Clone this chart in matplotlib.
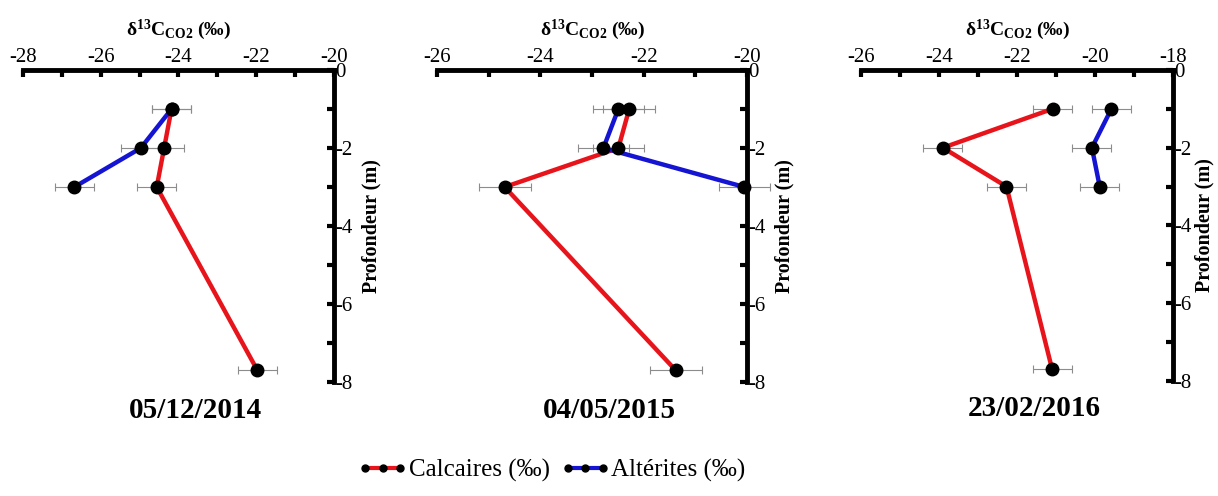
import numpy as np
import matplotlib.pyplot as plt
from matplotlib.lines import Line2D
from matplotlib.ticker import MultipleLocator

plt.rcParams['font.family'] = ['Liberation Serif', 'DejaVu Serif']
plt.rcParams['axes.unicode_minus'] = False
plt.rcParams['mathtext.fontset'] = 'custom'
plt.rcParams['mathtext.rm'] = 'Liberation Serif'
plt.rcParams['mathtext.bf'] = 'Liberation Serif:bold'
plt.rcParams['mathtext.it'] = 'Liberation Serif:italic'

# depths (m)
depth_calc = [-1, -2, -3, -7.7]
depth_alt = [-1, -2, -3]

# d13C CO2 (permil)
dates = ['05/12/2014', '04/05/2015', '23/02/2016']
calc = [[-24.18, -24.37, -24.56, -21.97],
        [-22.28, -22.49, -24.69, -21.38],
        [-21.09, -23.90, -22.27, -21.10]]
alt = [[-24.18, -24.97, -26.68],
       [-22.49, -22.78, -20.05],
       [-19.58, -20.08, -19.88]]
calc_err = [[0.5, 0.5, 0.5, 0.5],
            [0.5, 0.5, 0.5, 0.5],
            [0.5, 0.5, 0.5, 0.5]]
alt_err = [[0.5, 0.5, 0.5],
           [0.5, 0.5, 0.5],
           [0.5, 0.5, 0.5]]
xlims = [(-28, -20), (-26, -20), (-26, -18)]

RED = '#e8141b'
BLUE = '#1414d2'

fig = plt.figure(figsize=(12.18, 4.96), dpi=100)

boxes = [[0.0189, 0.2298, 0.2553, 0.629],
         [0.3588, 0.2298, 0.2545, 0.629],
         [0.7069, 0.2319, 0.2562, 0.627]]
ylabel_x = [1.088, 1.088, 1.068]

for i in range(3):
    ax = fig.add_axes(boxes[i])

    # error bars
    ax.errorbar(calc[i], depth_calc, xerr=calc_err[i], fmt='none',
                ecolor='#8c8c8c', elinewidth=0.8, capsize=3, capthick=0.8,
                zorder=1, clip_on=False)
    ax.errorbar(alt[i], depth_alt, xerr=alt_err[i], fmt='none',
                ecolor='#8c8c8c', elinewidth=0.8, capsize=3, capthick=0.8,
                zorder=1, clip_on=False)

    ax.plot(calc[i], depth_calc, color=RED, lw=3.2, zorder=2, clip_on=False)
    ax.plot(alt[i], depth_alt, color=BLUE, lw=3.2, zorder=3, clip_on=False)
    ax.plot(calc[i], depth_calc, 'o', color='k', ms=9, zorder=4, clip_on=False)
    ax.plot(alt[i], depth_alt, 'o', color='k', ms=9, zorder=4, clip_on=False)

    ax.set_xlim(*xlims[i])
    ax.set_ylim(-8, 0)

    for s in ['left', 'bottom']:
        ax.spines[s].set_visible(False)
    for s in ['top', 'right']:
        ax.spines[s].set_linewidth(3.5)

    ax.xaxis.tick_top()
    ax.yaxis.tick_right()
    ax.xaxis.set_major_locator(MultipleLocator(2))
    ax.xaxis.set_minor_locator(MultipleLocator(1))
    ax.yaxis.set_major_locator(MultipleLocator(2))
    ax.yaxis.set_minor_locator(MultipleLocator(1))
    ax.tick_params(which='both', direction='in', length=5, width=3,
                   labelsize=15)
    ax.tick_params(axis='x', pad=2)
    ax.tick_params(axis='y', pad=1)

    ax.yaxis.set_label_position('right')
    ax.set_ylabel('Profondeur (m)', fontsize=14.5, fontweight='bold')
    ax.yaxis.set_label_coords(ylabel_x[i], 0.5)

    ax.text(0.5, 1.13, r'$\mathbf{δ^{13}C_{CO2}}$ (‰)', transform=ax.transAxes,
            ha='center', va='center', fontsize=14, fontweight='bold')
    ax.text(0.555, -0.09, dates[i], transform=ax.transAxes,
            ha='center', va='center', fontsize=21, fontweight='bold')

handles = [Line2D([], [], color=RED, lw=3, marker='o', ms=5,
                  mfc='k', mec='k'),
           Line2D([], [], color=BLUE, lw=3, marker='o', ms=5,
                  mfc='k', mec='k')]
fig.legend(handles, ['Calcaires (‰)', 'Altérites (‰)'], loc='center',
           bbox_to_anchor=(0.453, 0.052), ncol=2, frameon=False,
           numpoints=3, handlelength=2.0, handletextpad=0.05,
           columnspacing=0.4, fontsize=18)

fig.savefig('out.png', dpi=100)
